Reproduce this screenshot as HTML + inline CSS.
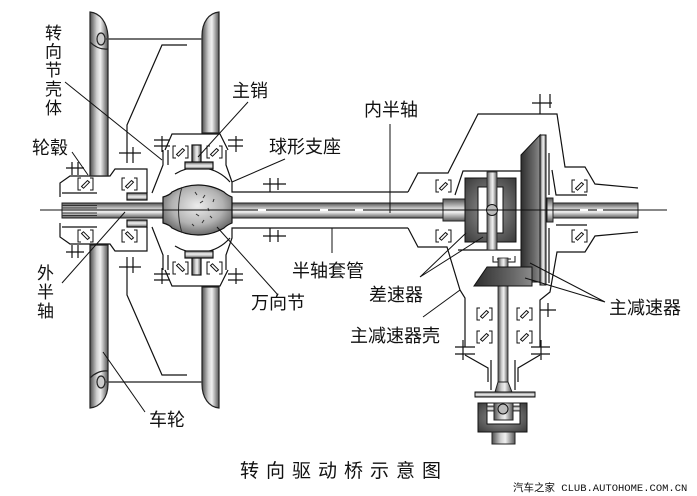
<!DOCTYPE html>
<html><head><meta charset="utf-8"><style>
html,body{margin:0;padding:0;background:#fff}
svg{display:block}
text{font-family:"Liberation Sans","Noto Sans CJK SC",sans-serif;fill:#111}
</style></head><body>
<svg width="697" height="496" viewBox="0 0 697 496" xmlns="http://www.w3.org/2000/svg">
<defs>
<linearGradient id="tv" x1="0" x2="1" y1="0" y2="0">
<stop offset="0" stop-color="#4e4e4e"/><stop offset=".38" stop-color="#d0d0d0"/><stop offset=".58" stop-color="#f0f0f0"/><stop offset="1" stop-color="#555"/></linearGradient>
<linearGradient id="sh" x1="0" x2="0" y1="0" y2="1">
<stop offset="0" stop-color="#555"/><stop offset=".4" stop-color="#d4d4d4"/><stop offset=".6" stop-color="#eee"/><stop offset="1" stop-color="#5a5a5a"/></linearGradient>
<linearGradient id="dk" x1="0" x2="1" y1="0" y2="0">
<stop offset="0" stop-color="#2e2e2e"/><stop offset=".7" stop-color="#6a6a6a"/><stop offset="1" stop-color="#8a8a8a"/></linearGradient>
<radialGradient id="df" cx=".5" cy=".5" r=".7">
<stop offset="0" stop-color="#999"/><stop offset="1" stop-color="#3a3a3a"/></radialGradient>
<radialGradient id="bl" cx=".5" cy=".42" r=".62">
<stop offset="0" stop-color="#ececec"/><stop offset=".6" stop-color="#b2b2b2"/><stop offset="1" stop-color="#5e5e5e"/></radialGradient>
<g id="brg"><path d="M3,0H0V12H3M12,0H15V12H12" fill="none" stroke="#111" stroke-width="1"/><path d="M3.5,8.5 L9.5,2.5 L11.5,4.2 L5.5,10.2 Z" fill="#fff" stroke="#111" stroke-width="1"/></g>
<g id="lh" fill="none" stroke="#111" stroke-width="1.2">
<path d="M60,197 V183 L70,176 H110 L115,169 H147 V193"/>
<path d="M62,193 H97"/>
<path d="M66,168 H84 M72,162 V175 M78,162 V175"/>
<path d="M187,45 H162 L127,125 V163 M119,153 H141 M133,147 V163"/>
<path d="M152,193 L163,165 V150"/>
<path d="M165,150 L172,134 H220 L228,150"/>
<path d="M154,140 H170 M154,146 H170 M162,136 V152 M228,140 H243 M228,146 H243 M236,136 V152"/>
<path d="M168,150 V165 M226,150 V165 L232,182 V192 H408"/>
<path d="M175,174 A43,43 0 0 1 230,182"/>
<path d="M263,184 H286 M270,178 V192 M278,178 V190"/>
<rect x="127" y="193" width="20" height="7" fill="url(#sh)"/>
<use href="#brg" x="78" y="178"/>
<use href="#brg" x="122" y="178"/>
<use href="#brg" x="173" y="146"/>
<use href="#brg" x="207" y="146"/>
<rect x="192" y="145" width="9" height="18" fill="url(#tv)"/>
<rect x="185" y="162" width="28" height="7" fill="url(#sh)"/>
</g>
</defs>

<rect width="697" height="496" fill="#fff"/>

<use href="#lh"/>
<use href="#lh" transform="matrix(1,0,0,-1,0,420)"/>

<!-- tires -->
<g stroke="#222" stroke-width="1.2">
<path d="M90,12 C100,13 107,22 108,36 L108,176 L90,176 Z" fill="url(#tv)"/>
<path d="M219,12 C209,13 202,22 202,36 L202,133 L219,133 Z" fill="url(#tv)"/>
<path d="M90,408 C100,407 108,398 108,384 L108,245 L90,245 Z" fill="url(#tv)"/>
<path d="M219,408 C209,407 202,398 202,384 L202,287 L219,287 Z" fill="url(#tv)"/>
<path d="M90,42 Q98,50 108,49 M90,378 Q98,370 108,371" fill="none"/>
<ellipse cx="101" cy="39" rx="4" ry="6" fill="#ccc"/>
<ellipse cx="101" cy="382" rx="4" ry="6" fill="#ccc"/>
<path d="M106,39 H202 M106,382 H202" fill="none" stroke="#444" stroke-width="1.5"/>
</g>

<!-- right housing -->
<g fill="none" stroke="#111" stroke-width="1.2">
<path d="M408,192 L418,173 H448 L478,114 H557 L565,167 H585 L595,184 L638,188"/>
<path d="M532,103 H552 M540,94 V114 M550,94 V108"/>
<path d="M455,195 L463,171 H521"/>
<path d="M549,153 V195 M552,170 L556,195 H587"/>
<path d="M408,228 L418,247 H447 L460,290 L465,298 V347"/>
<path d="M458,250 H521"/>
<path d="M638,232 L595,236 L585,252 H557 L550,292 L540,300 V347"/>
<path d="M549,228 V283 M556,225 H587"/>
<path d="M455,347 H475 M455,354 H475 M463,340 V360"/>
<path d="M531,347 H550 M531,354 H550 M541,340 V360"/>
<path d="M540,310 H556 M548,303 V317"/>
<path d="M465,355 L488,368 V382 M540,355 L518,368 V382"/>
<path d="M491,360 V390 M515,360 V390"/>
</g>
<use href="#brg" x="436" y="180"/>
<use href="#brg" x="572" y="180"/>
<use href="#brg" x="436" y="230"/>
<use href="#brg" x="572" y="230"/>
<use href="#brg" x="477" y="308"/>
<use href="#brg" x="517" y="308"/>
<use href="#brg" x="477" y="331"/>
<use href="#brg" x="517" y="331"/>

<!-- shafts -->
<g stroke="#222" stroke-width="1">
<rect x="62" y="203" width="104" height="15" fill="url(#sh)"/>
<rect x="230" y="203" width="214" height="15" fill="url(#sh)"/>
<rect x="553" y="203" width="85" height="15" fill="url(#sh)"/>
<path d="M62,205.5 H97 M62,208 H97 M62,213 H97 M62,215.5 H97" fill="none" stroke="#333"/>
<rect x="443" y="199" width="22" height="22" fill="url(#sh)"/>
<rect x="547" y="198" width="6" height="24" fill="url(#sh)"/>
</g>

<!-- ball joint -->
<path d="M163,197 Q170,195 172,192 Q185,185 198,185 Q212,185 224,192 Q227,195 232,197 V223 Q227,225 224,228 Q212,235 198,235 Q185,235 172,228 Q170,225 163,223 Z" fill="url(#bl)" stroke="#111" stroke-width="1.2"/>
<path d="M182,187 Q175,210 182,233" fill="none" stroke="#333"/>
<path d="M195,192 l2,3 M205,195 l-2,3 M200,203 l3,-2 M208,208 l1,3 M196,214 l3,2 M204,220 l-2,3 M210,216 l2,2 M192,224 l2,2 M214,199 l-1,3" stroke="#333" fill="none"/>

<!-- diff -->
<rect x="465" y="178" width="51" height="64" fill="url(#df)" stroke="#111"/>
<rect x="478" y="187" width="25" height="46" fill="#fff" stroke="#111"/>
<rect x="487" y="172" width="10" height="78" fill="url(#tv)" stroke="#222" stroke-width=".8"/>
<circle cx="492" cy="210" r="5.5" fill="#bbb" stroke="#111"/>
<!-- ring gear -->
<polygon points="521,155 540,135 540,282 521,282" fill="url(#dk)" stroke="#111"/>
<rect x="540" y="135" width="6" height="150" fill="url(#tv)" stroke="#111"/>
<path d="M493,256 V262 H515 V256 M497,259 H511" fill="none" stroke="#111"/>
<rect x="498" y="258" width="10" height="130" fill="url(#tv)" stroke="#222" stroke-width=".8"/>
<polygon points="487,267 532,267 532,286 474,286" fill="url(#dk)" stroke="#111"/>
<path d="M498,382 L495,392 H512 L508,382 Z" fill="url(#tv)" stroke="#222"/>
<rect x="475" y="392" width="60" height="5" fill="url(#sh)" stroke="#111"/>
<path d="M478,403 H487 V424 H520 V403 H527 V432 H478 Z" fill="url(#df)" stroke="#111"/>
<rect x="487" y="403" width="33" height="21" fill="#fff" stroke="#111"/>
<rect x="487" y="406" width="33" height="5" fill="url(#sh)" stroke="#222" stroke-width=".8"/>
<rect x="494" y="403" width="19" height="17" fill="url(#tv)" stroke="#222"/>
<circle cx="503" cy="409" r="5" fill="#bbb" stroke="#111"/>
<rect x="492" y="432" width="23" height="12" fill="url(#tv)" stroke="#222"/>

<!-- center line -->
<path d="M40,210 H667" stroke="#111" stroke-width="1"/>
<path d="M258,210 H266 M320,210 H328 M355,210 H363 M580,210 H588 M597,210 H603" stroke="#fff" stroke-width="2"/>

<!-- leaders -->
<g stroke="#111" stroke-width="1" fill="none">
<path d="M65,82 L162,160"/>
<path d="M248,102 L198,157"/>
<path d="M285,159 L232,182"/>
<path d="M72,152 L88,175"/>
<path d="M390,124 V213"/>
<path d="M62,283 L125,212"/>
<path d="M217,227 L278,295"/>
<path d="M332,228 V253"/>
<path d="M145,412 L103,352"/>
<path d="M420,277 L466,233 M420,277 L483,237"/>
<path d="M605,302 L530,263 M605,302 L525,278"/>
<path d="M423,317 L460,290"/>
</g>

<!-- labels -->
<g font-size="17">
<text x="45" y="39">转</text>
<text x="45" y="57.5">向</text>
<text x="45" y="76">节</text>
<text x="45" y="95">壳</text>
<text x="45" y="114">体</text>
<text x="37" y="279">外</text>
<text x="37" y="298">半</text>
<text x="37" y="317">轴</text>
</g>
<g font-size="18">
<text x="232" y="97">主销</text>
<text x="269" y="153">球形支座</text>
<text x="32" y="154">轮毂</text>
<text x="364" y="116">内半轴</text>
<text x="251" y="309">万向节</text>
<text x="292" y="277">半轴套管</text>
<text x="369" y="301">差速器</text>
<text x="350" y="342">主减速器壳</text>
<text x="609" y="314">主减速器</text>
<text x="149" y="426">车轮</text>
</g>
<text x="240" y="477" font-size="19" letter-spacing="7">转向驱动桥示意图</text>
<text x="513" y="491" font-size="10.5" style="font-family:'Liberation Mono','Noto Sans CJK SC',monospace">汽车之家 CLUB.AUTOHOME.COM.CN</text>
</svg>
</body></html>
